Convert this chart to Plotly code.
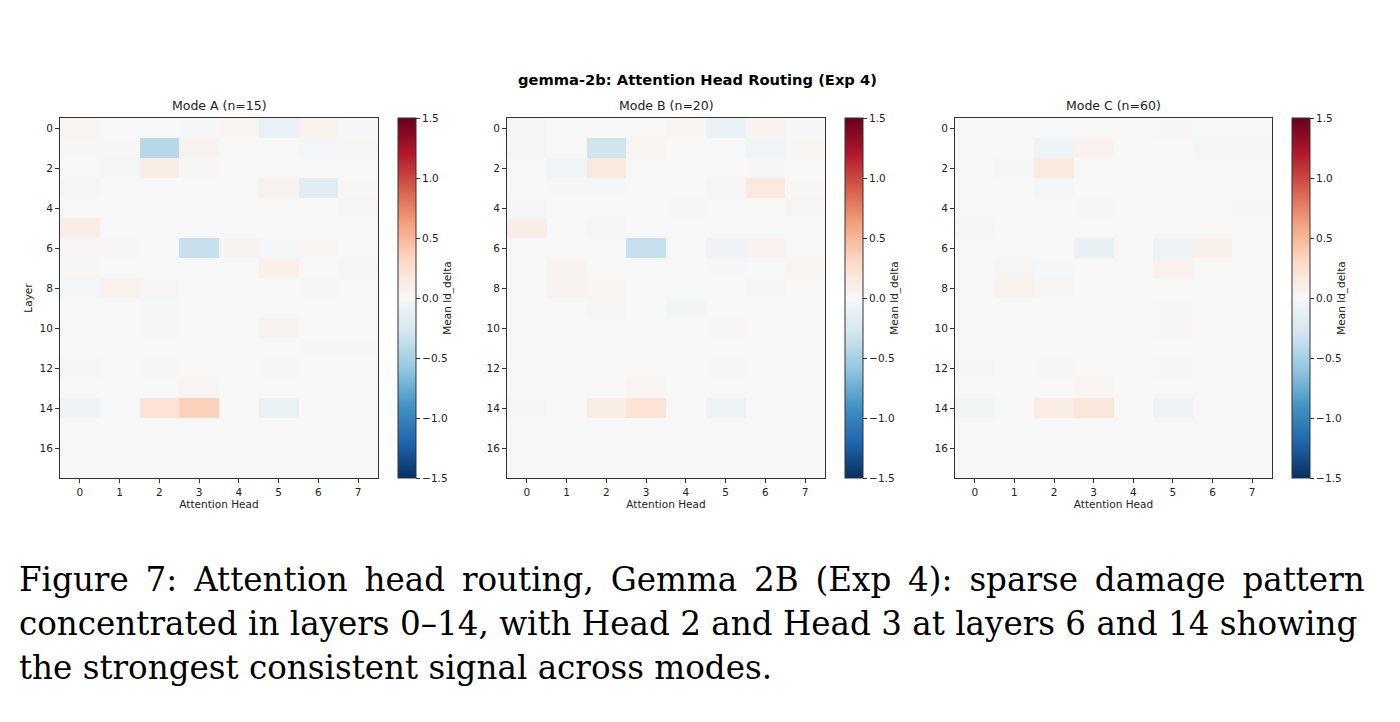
import plotly.graph_objects as go

# mean ld_delta per (layer, attention head)
layers = list(range(18))
heads = list(range(8))

mode_a = [
    [0.03, 0.00, 0.00, -0.02, 0.03, -0.10, 0.05, -0.02],
    [-0.01, 0.01, -0.42, 0.05, 0.00, 0.00, -0.03, 0.02],
    [0.00, -0.03, 0.12, 0.01, 0.00, 0.00, 0.00, 0.00],
    [-0.03, 0.00, 0.00, 0.00, 0.00, 0.05, -0.17, 0.01],
    [0.00, 0.00, 0.00, 0.00, 0.00, 0.00, 0.00, 0.02],
    [0.10, 0.00, 0.00, 0.00, 0.00, 0.00, 0.00, 0.00],
    [0.01, 0.01, 0.00, -0.35, 0.04, -0.03, 0.03, 0.00],
    [0.01, 0.00, 0.00, 0.00, 0.00, 0.08, 0.00, 0.02],
    [-0.03, 0.06, 0.02, 0.00, 0.00, 0.00, -0.02, 0.00],
    [0.00, 0.00, -0.02, 0.00, 0.00, 0.00, 0.00, 0.00],
    [0.00, 0.00, -0.02, 0.00, 0.00, 0.04, 0.00, 0.00],
    [0.00, 0.00, 0.00, 0.00, 0.00, 0.00, -0.02, 0.01],
    [-0.03, 0.00, -0.02, 0.00, 0.00, 0.01, 0.00, 0.00],
    [0.00, 0.00, 0.00, 0.03, 0.00, 0.00, 0.00, 0.00],
    [-0.06, 0.00, 0.20, 0.35, 0.00, -0.10, 0.00, 0.00],
    [0.00, 0.00, 0.00, 0.00, 0.00, 0.00, 0.00, 0.00],
    [0.00, 0.00, 0.00, 0.00, 0.00, 0.00, 0.00, 0.00],
    [0.00, 0.00, 0.00, 0.00, 0.00, 0.00, 0.00, 0.00],
]

mode_b = [
    [0.02, 0.00, 0.00, 0.00, 0.03, -0.10, 0.04, -0.02],
    [0.02, 0.00, -0.30, 0.03, 0.00, 0.00, -0.05, 0.03],
    [0.00, -0.05, 0.15, 0.00, 0.00, 0.00, 0.01, 0.00],
    [0.00, -0.02, -0.02, 0.00, 0.00, 0.02, 0.15, 0.01],
    [-0.03, 0.00, 0.00, 0.00, 0.01, 0.00, 0.00, 0.02],
    [0.10, 0.00, 0.02, 0.00, 0.00, 0.00, 0.00, 0.00],
    [0.00, 0.00, 0.00, -0.35, 0.00, -0.06, 0.06, 0.00],
    [0.00, 0.04, 0.00, 0.00, 0.00, -0.02, 0.00, 0.03],
    [0.00, 0.04, 0.03, 0.00, 0.00, 0.00, -0.03, 0.00],
    [0.00, 0.00, -0.03, 0.00, -0.04, 0.00, 0.00, 0.00],
    [0.00, 0.00, 0.00, 0.00, 0.00, 0.01, 0.00, 0.00],
    [0.00, 0.00, 0.00, 0.00, 0.00, 0.00, 0.00, 0.00],
    [0.00, 0.00, 0.00, 0.00, 0.00, 0.01, 0.00, 0.00],
    [0.00, 0.00, 0.00, 0.03, 0.00, 0.00, 0.00, 0.00],
    [-0.03, 0.00, 0.12, 0.20, 0.00, -0.08, 0.00, 0.00],
    [0.00, 0.00, 0.00, 0.00, 0.00, 0.00, 0.00, 0.00],
    [0.00, 0.00, 0.00, 0.00, 0.00, 0.00, 0.00, 0.00],
    [0.00, 0.00, 0.00, 0.00, 0.00, 0.00, 0.00, 0.00],
]

mode_c = [
    [0.00, 0.00, 0.00, 0.00, 0.00, 0.01, 0.00, 0.00],
    [0.00, 0.00, -0.06, 0.06, 0.00, 0.00, -0.03, 0.02],
    [0.00, -0.03, 0.15, 0.00, 0.00, 0.00, 0.00, 0.00],
    [0.00, 0.00, -0.03, 0.00, 0.00, 0.00, 0.00, 0.00],
    [0.00, 0.00, 0.00, -0.02, 0.00, 0.00, 0.00, 0.02],
    [0.02, 0.00, 0.00, 0.00, 0.00, 0.00, 0.00, 0.00],
    [0.00, 0.00, 0.00, -0.12, 0.00, -0.08, 0.08, 0.00],
    [0.00, 0.02, -0.02, 0.00, 0.00, 0.06, 0.00, 0.00],
    [0.00, 0.06, 0.02, 0.00, 0.00, 0.00, 0.00, 0.00],
    [0.00, 0.00, 0.00, 0.00, 0.00, -0.01, 0.00, 0.00],
    [0.00, 0.00, 0.00, 0.00, 0.00, 0.01, 0.00, 0.00],
    [0.00, 0.00, 0.00, 0.00, 0.00, 0.00, 0.00, 0.00],
    [0.02, 0.00, -0.02, 0.00, 0.00, 0.01, 0.00, 0.00],
    [0.00, 0.00, 0.00, 0.03, 0.00, 0.00, 0.00, 0.00],
    [-0.04, 0.00, 0.12, 0.17, 0.00, -0.08, 0.00, 0.00],
    [0.00, 0.00, 0.00, 0.00, 0.00, 0.00, 0.00, 0.00],
    [0.00, 0.00, 0.00, 0.00, 0.00, 0.00, 0.00, 0.00],
    [0.00, 0.00, 0.00, 0.00, 0.00, 0.00, 0.00, 0.00],
]

panel_titles = ["Mode A (n=15)", "Mode B (n=20)", "Mode C (n=60)"]
cbar_ticks = [-1.5, -1.0, -0.5, 0.0, 0.5, 1.0, 1.5]
cbar_labels = ["\u22121.5", "\u22121.0", "\u22120.5", "0.0", "0.5", "1.0", "1.5"]

caption_lines = [
    "Figure 7: Attention head routing, Gemma 2B (Exp 4): sparse damage pattern",
    "concentrated in layers 0\u201314, with Head 2 and Head 3 at layers 6 and 14 showing",
    "the strongest consistent signal across modes.",
]

# matplotlib RdBu_r
rdbu_r = [
    [0.0, "#053061"], [0.1, "#2166ac"], [0.2, "#4393c3"], [0.3, "#92c5de"],
    [0.4, "#d1e5f0"], [0.5, "#f7f7f7"], [0.6, "#fddbc7"], [0.7, "#f4a582"],
    [0.8, "#d6604d"], [0.9, "#b2182b"], [1.0, "#67001f"],
]

W, H = 1400, 722
OFF = 8  # page body margin
FONT = "DejaVu Sans"
TXT = "#222222"

def px_x(p):
    return (p - OFF) / W

def px_y(p):
    return 1 - (p - OFF) / H

# pixel boxes of the three panels (left, right) and colorbar left edge
ax_left = [60, 507, 955]
ax_right = [378, 825, 1272]
cb_left = [398, 845, 1292]
ax_top, ax_bottom = 118, 478

fig = go.Figure()
for i, z in enumerate([mode_a, mode_b, mode_c]):
    n = "" if i == 0 else str(i + 1)
    fig.add_trace(go.Heatmap(
        z=z, x=heads, y=layers,
        xaxis="x" + n, yaxis="y" + n,
        colorscale=rdbu_r, zmin=-1.5, zmax=1.5,
        colorbar=dict(
            x=px_x(cb_left[i]), xanchor="left", xpad=0, ypad=0,
            y=px_y((ax_top + ax_bottom) / 2), yanchor="middle",
            len=ax_bottom - ax_top, lenmode="pixels",
            thickness=18, thicknessmode="pixels",
            outlinewidth=1, outlinecolor="#333333",
            tickvals=cbar_ticks, ticktext=cbar_labels,
            ticks="outside", ticklen=4, tickcolor="#333333",
            tickfont=dict(family=FONT, size=10.5, color=TXT),
            title=dict(text="Mean ld_delta", side="right",
                       font=dict(family=FONT, size=10.5, color=TXT)),
        ),
    ))
    axis_common = dict(showgrid=False, zeroline=False, showline=True,
                       linecolor="#333333", linewidth=1, mirror=True,
                       ticks="outside", ticklen=4, tickcolor="#333333",
                       tickfont=dict(family=FONT, size=10.5, color=TXT))
    fig.layout["xaxis" + n] = dict(
        axis_common,
        domain=[px_x(ax_left[i]), px_x(ax_right[i])],
        anchor="y" + n, range=[-0.5, 7.5], tickvals=heads,
        title=dict(text="Attention Head", standoff=2,
                   font=dict(family=FONT, size=10.5, color=TXT)),
    )
    fig.layout["yaxis" + n] = dict(
        axis_common,
        domain=[px_y(ax_bottom), px_y(ax_top)],
        anchor="x" + n, range=[17.5, -0.5], tickvals=list(range(0, 17, 2)),
        title=dict(text="Layer" if i == 0 else "", standoff=4,
                   font=dict(family=FONT, size=10.5, color=TXT)),
    )
    fig.add_annotation(
        text=panel_titles[i], xref="paper", yref="paper",
        x=px_x((ax_left[i] + ax_right[i]) / 2), y=px_y(ax_top - 3),
        xanchor="center", yanchor="bottom", showarrow=False,
        font=dict(family=FONT, size=12.5, color=TXT),
    )

fig.add_annotation(
    text="<b>gemma-2b: Attention Head Routing (Exp 4)</b>",
    xref="paper", yref="paper", x=px_x(697), y=px_y(79),
    xanchor="center", yanchor="middle", showarrow=False,
    font=dict(family=FONT, size=14.7, color="black"),
)

# first line is justified in the paper: widen its word gaps a little
justified = [caption_lines[0].replace(" ", " \u2009"), caption_lines[1], caption_lines[2]]
for k, line in enumerate(justified):
    fig.add_annotation(
        text=line, xref="paper", yref="paper",
        x=px_x(17), y=px_y(580 + 44 * k),
        xanchor="left", yanchor="middle", showarrow=False,
        font=dict(family="DejaVu Serif", size=32.6, color="black"),
    )

fig.update_layout(
    width=W, height=H,
    margin=dict(l=0, r=0, t=0, b=0),
    paper_bgcolor="white", plot_bgcolor="white",
    showlegend=False,
)

fig.write_html("out.html")
